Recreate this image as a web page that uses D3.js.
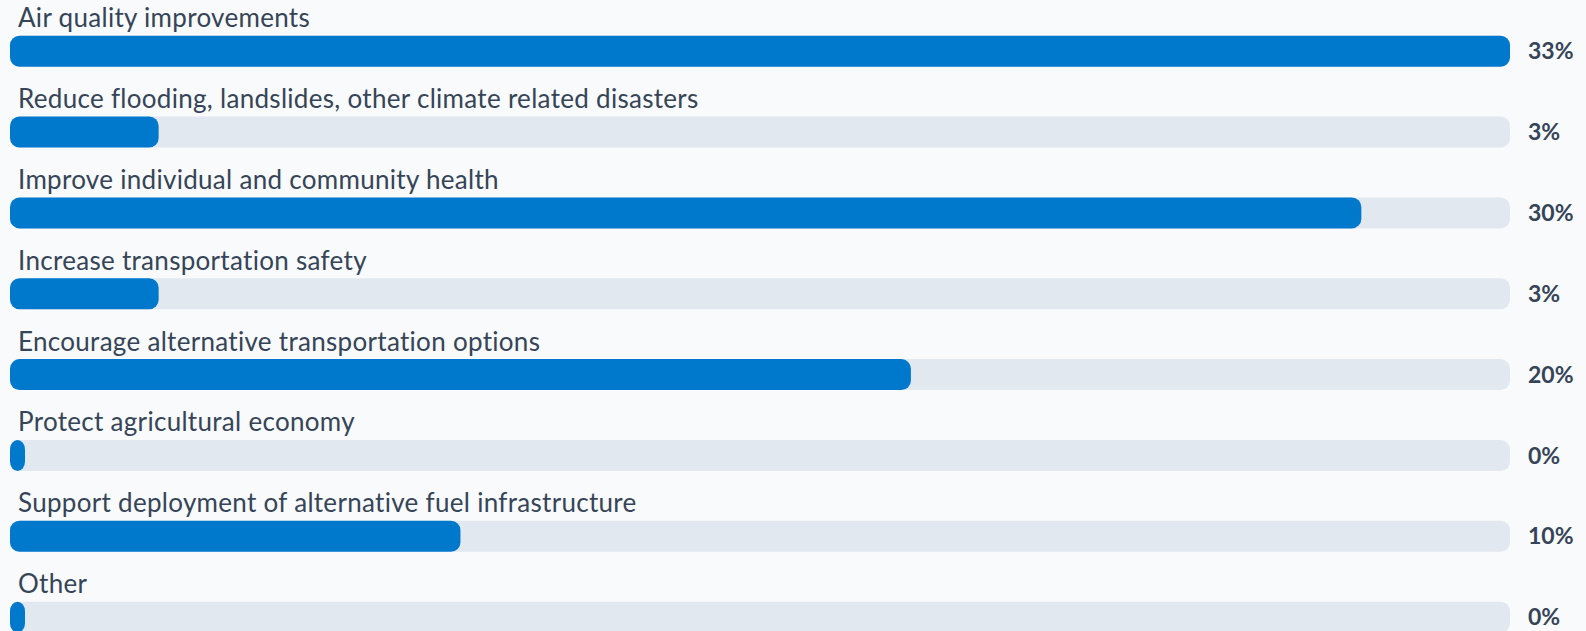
<!DOCTYPE html>
<html><head><meta charset="utf-8">
<script src="https://cdn.jsdelivr.net/npm/d3@7"></script>
<style>
html,body{margin:0;padding:0;background:#f8fafc;overflow:hidden;}
svg{display:block;}
</style></head>
<body>
<svg id="chart" width="1586" height="631"></svg>
<script>
const categories = [
  "Air quality improvements",
  "Reduce flooding, landslides, other climate related disasters",
  "Improve individual and community health",
  "Increase transportation safety",
  "Encourage alternative transportation options",
  "Protect agricultural economy",
  "Support deployment of alternative fuel infrastructure",
  "Other"
];
const values = [33.3, 3.3, 30.0, 3.3, 20.0, 0, 10.0, 0];
const valueLabels = ["33%", "3%", "30%", "3%", "20%", "0%", "10%", "0%"];

const W = 1586, H = 631;
const svg = d3.select("#chart");
svg.append("rect").attr("width", W).attr("height", H).attr("fill", "#f8fafc");

const trackLeft = 10, trackRight = 1510;
const barH = 31, rowH = 80.85, firstBarTop = 35.7;
const x = d3.scaleLinear().domain([0, d3.max(values)]).range([0, trackRight - trackLeft]);
const y = d3.scaleBand().domain(categories).range([firstBarTop, firstBarTop + rowH * categories.length]).paddingInner(0).paddingOuter(0);

const minW = 15;
const g = svg.selectAll("g.row").data(categories).join("g").attr("class", "row")
  .attr("transform", d => `translate(0,${y(d)})`);

g.append("text")
  .attr("x", 18).attr("y", -8.5)
  .attr("font-family", "Lato, 'Noto Sans', sans-serif")
  .attr("font-size", 26)
  .attr("letter-spacing", 0.3)
  .attr("fill", "#364457")
  .text(d => d);

g.append("rect")
  .attr("x", trackLeft).attr("y", 0)
  .attr("width", trackRight - trackLeft).attr("height", barH)
  .attr("rx", 9.5).attr("fill", "#e2e8f0");

g.append("rect")
  .attr("x", trackLeft).attr("y", 0)
  .attr("width", (d, i) => Math.max(minW, x(values[i])))
  .attr("height", barH)
  .attr("rx", 9.5).attr("fill", "#0079cc");

g.append("text")
  .attr("x", 1528).attr("y", 23.6)
  .attr("font-family", "Lato, 'Noto Sans', sans-serif")
  .attr("font-size", 23).attr("font-weight", 700)
  .attr("fill", "#364457")
  .text((d, i) => valueLabels[i]);
</script>
</body></html>
